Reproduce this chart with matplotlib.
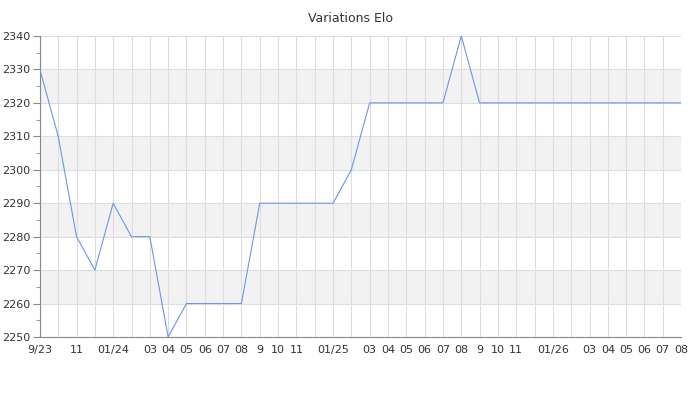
import matplotlib
matplotlib.use("Agg")
import matplotlib.pyplot as plt
from matplotlib.ticker import MultipleLocator

month_labels = ["9/23", "", "11", "", "01/24", "", "03", "04", "05", "06", "07", "08",
                "9", "10", "11", "", "01/25", "", "03", "04", "05", "06", "07", "08",
                "9", "10", "11", "", "01/26", "", "03", "04", "05", "06", "07", "08"]
elo = [2330, 2310, 2280, 2270, 2290, 2280, 2280, 2250, 2260, 2260, 2260, 2260,
       2290, 2290, 2290, 2290, 2290, 2300, 2320, 2320, 2320, 2320, 2320, 2340,
       2320, 2320, 2320, 2320, 2320, 2320, 2320, 2320, 2320, 2320, 2320, 2320]
title = "Variations Elo"

fig = plt.figure(figsize=(7, 4), dpi=100)
ax = fig.add_axes([0.057, 0.1575, 0.916, 0.7525])

x = list(range(len(elo)))
ymin, ymax = 2250, 2340
for lo in range(2260, 2340, 20):
    ax.axhspan(lo, lo + 10, color="#f2f2f2", zorder=0, lw=0)

ax.plot(x, elo, color="#6a96ee", lw=0.8, zorder=3)
ax.set_xlim(0, len(elo) - 1)
ax.set_ylim(ymin, ymax)
ax.set_xticks(x)
ax.set_xticklabels(month_labels)
ax.yaxis.set_major_locator(MultipleLocator(10))
ax.yaxis.set_minor_locator(MultipleLocator(5))
ax.grid(True, which="major", color="#dddddd", lw=0.8, zorder=1)
ax.set_axisbelow(True)
for s in ["top", "right"]:
    ax.spines[s].set_visible(False)
for s in ["left", "bottom"]:
    ax.spines[s].set_color("#888888")
    ax.spines[s].set_linewidth(0.8)
ax.tick_params(axis="x", length=0, labelsize=8, labelcolor="#333333", pad=6)
ax.tick_params(axis="y", which="major", length=5, color="#888888", labelsize=8, labelcolor="#333333", pad=2)
ax.tick_params(axis="y", which="minor", length=3, color="#888888")
fig.suptitle(title, y=0.97, fontsize=9, color="#333333")
fig.savefig("out.png", dpi=100)
